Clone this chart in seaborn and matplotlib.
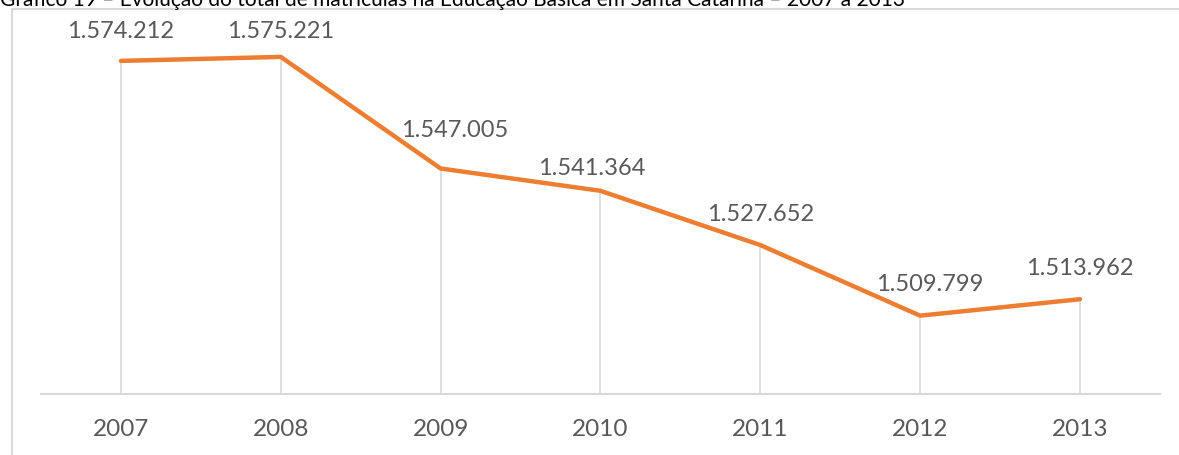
import pandas as pd
import matplotlib.pyplot as plt
import seaborn as sns
from matplotlib.patches import Rectangle

years = ["2007", "2008", "2009", "2010", "2011", "2012", "2013"]
matriculas = [1574212, 1575221, 1547005, 1541364, 1527652, 1509799, 1513962]
labels = ["1.574.212", "1.575.221", "1.547.005", "1.541.364", "1.527.652", "1.509.799", "1.513.962"]
title = "Gráfico 19 – Evolução do total de matrículas na Educação Básica em Santa Catarina – 2007 a 2013"

df = pd.DataFrame({"ano": years, "total": matriculas})

sns.set_style("white")
plt.rcParams["font.family"] = ["Lato", "DejaVu Sans"]

gray_txt = "#595959"
grid_c = "#D9D9D9"
orange = "#ED7D31"

fig = plt.figure(figsize=(11.79, 4.56), dpi=100)
ax = fig.add_axes([0.0348, 0.1338, 0.949, 0.7807])

pos = list(range(len(years)))
ax.vlines(pos, 1490000, matriculas, color=grid_c, linewidth=1.2, zorder=1)
sns.lineplot(data=df, x="ano", y="total", ax=ax, color=orange, linewidth=3.2,
             sort=False, zorder=3)

# label offsets (points) roughly as placed in the original
dx = [0, 0, 10, -6, 0, 7, 0]
dy = [22, 19, 28, 17, 23, 23, 23]
for i, (v, t) in enumerate(zip(matriculas, labels)):
    ax.annotate(t, (i, v), xytext=(dx[i], dy[i]), textcoords="offset points",
                ha="center", va="center", fontsize=17, color=gray_txt)

ax.set_xlim(-0.5, 6.5)
ax.set_ylim(1490000, 1580000)
ax.set_yticks([])
ax.set_xlabel("")
ax.set_ylabel("")
for s in ["top", "right", "left"]:
    ax.spines[s].set_visible(False)
ax.spines["bottom"].set_color(grid_c)
ax.spines["bottom"].set_linewidth(1.5)
ax.tick_params(axis="x", length=0, pad=17, labelsize=17.5, labelcolor=gray_txt)

# chart frame (extends past figure right/bottom)
fig.patches.append(Rectangle((12 / 1179, -0.05), 1.2, 1 - 10 / 456 + 0.05,
                             transform=fig.transFigure, fill=False,
                             edgecolor=grid_c, linewidth=1.5))
fig.text(0.0, 1 - 10 / 456, title, ha="left", va="bottom", fontsize=15, color="black")

fig.savefig("out.png", dpi=100)
